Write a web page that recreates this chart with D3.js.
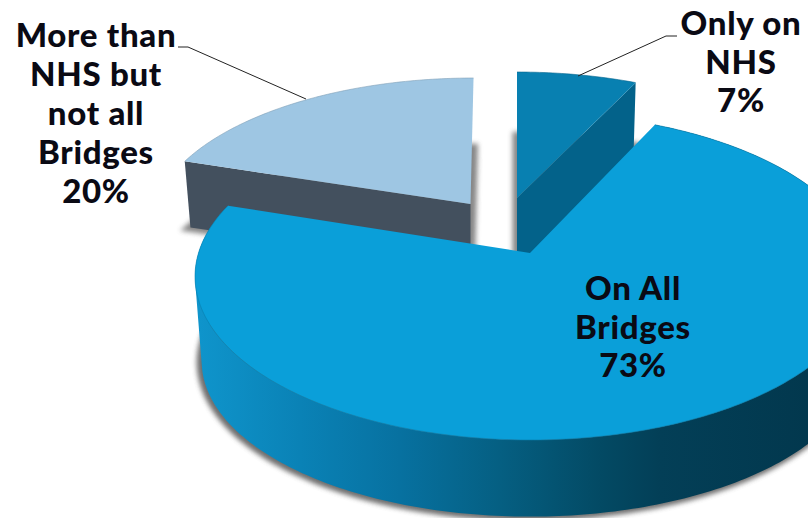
<!DOCTYPE html>
<html>
<head>
<meta charset="utf-8">
<script src="https://cdnjs.cloudflare.com/ajax/libs/d3/7.8.5/d3.min.js"></script>
<style>
  html, body { margin: 0; padding: 0; background: #fff; }
  svg { display: block; }
  text { font-family: Lato, "Open Sans", sans-serif; font-weight: 900; fill: #0a0a14; text-anchor: middle; letter-spacing: 0.7px; }
</style>
</head>
<body>
<svg id="chart" width="808" height="518"></svg>
<script>
// Share of bridges carrying the markings, by coverage.
const categories = ["Only on NHS", "On All Bridges", "More than NHS but not all Bridges"];
const shares = [7, 73, 20];
const labelLines = [
  ["Only on", "NHS", "7%"],
  ["On All", "Bridges", "73%"],
  ["More than", "NHS but", "not all", "Bridges", "20%"]
];
const topColors = ["#0880b1", "#0a9fd9", "#9ec6e3"];
const sideColors = ["#03628a", null, "#43505e"];

// Placement of each wedge: apex on screen, scale of the disc and lean of its back edge.
const wedgeLayout = [
  { x: 517, y: 198, sx: 0.95, sy: 0.9, lean: 0, depth: 74, shadowDepth: 58 },
  { x: 530, y: 253, sx: 1, sy: 1, lean: 0, depth: 86, shadowDepth: 86 },
  { x: 470.5, y: 204, sx: 0.95, sy: 0.9, lean: 0.024, depth: 64, shadowDepth: 64 }
];
const labelAnchors = [
  { x: 741, y: 35 }, { x: 633, y: 300 }, { x: 96, y: 47 }
];
const leaders = [
  [[578, 76], [666, 36], [677, 36]],
  [],
  [[178, 47], [188, 47], [306, 99]]
];
const lineHeights = [38.5, 38.5, 39];

// Perspective disc: unit circle seen from the front, far side foreshortened.
const A = 331.5, B = 160.1, P = 0.1437;
const baseScaleX = 0.98, baseScaleY = 0.95;

function project(angle, r, wedge, base) {
  const x = r * Math.sin(angle), y = r * Math.cos(angle);
  const w = 1 + P * y;
  const kx = wedge.sx * (base ? baseScaleX : 1);
  const ky = wedge.sy * (base ? baseScaleY : 1);
  const Y = B * y / w * ky;
  return [
    wedge.x + A * x / w * kx + wedge.lean * Y,
    wedge.y - Y + (base ? wedge.depth : 0)
  ];
}

const svg = d3.select("#chart");
const defs = svg.append("defs");
const line = d3.line();

const pie = d3.pie().sort(null).startAngle(0).endAngle(2 * Math.PI);
const arcs = pie(shares);

function rim(arc, wedge, base) {
  const n = Math.max(2, Math.ceil((arc.endAngle - arc.startAngle) * 60));
  return d3.range(n + 1).map(i =>
    project(arc.startAngle + (arc.endAngle - arc.startAngle) * i / n, 1, wedge, base));
}
const apex = (wedge, base) => project(0, 0, wedge, base);
const facePath = (arc, wedge, base) => line([apex(wedge, base), ...rim(arc, wedge, base)]) + "Z";

// Soft drop shadow under every wedge
defs.append("filter").attr("id", "soft")
  .attr("x", -0.1).attr("y", -0.1).attr("width", 1.2).attr("height", 1.2)
  .append("feGaussianBlur").attr("stdDeviation", 2.6);

// Rim shading of the large wedge runs dark toward the right
const rimStops = [
  [195, "#0f95cc"], [300, "#0a82b6"], [400, "#0771a0"], [500, "#055f82"],
  [600, "#034a64"], [660, "#033f57"], [808, "#02384e"]
];
const grad = defs.append("linearGradient").attr("id", "rimShade")
  .attr("gradientUnits", "userSpaceOnUse")
  .attr("x1", 195).attr("x2", 808).attr("y1", 0).attr("y2", 0);
grad.selectAll("stop").data(rimStops).join("stop")
  .attr("offset", d => (d[0] - 195) / (808 - 195))
  .attr("stop-color", d => d[1]);

// Back wedges first, the large one last so it overlaps them.
[2, 0, 1].forEach(i => {
  const arc = arcs[i], wedge = wedgeLayout[i];
  const g = svg.append("g").attr("class", "wedge").attr("aria-label", categories[i]);

  g.append("path")
    .attr("d", facePath(arc, { ...wedge, depth: wedge.shadowDepth }, true))
    .attr("fill", "#555")
    .attr("stroke", "#555")
    .attr("stroke-width", i === 1 ? 6 : 9)
    .attr("opacity", i === 1 ? 0.85 : 0.7)
    .attr("transform", i === 1 ? "translate(-2,1)" : null)
    .attr("filter", "url(#soft)");

  if (i === 1) {
    // The curved wall is one path of same-handed quads, so it stays solid where it folds at the sides.
    const top = rim(arc, wedge, false), bottom = rim(arc, wedge, true);
    const wall = d3.range(top.length - 1).map(k => {
      const quad = [top[k], top[k + 1], bottom[k + 1], bottom[k]];
      return line(d3.polygonArea(quad) < 0 ? quad.reverse() : quad) + "Z";
    }).join("");
    g.append("path").attr("d", wall).attr("fill", "url(#rimShade)");
  } else {
    const corner = i === 0 ? arc.endAngle : arc.startAngle;
    const front = [
      apex(wedge, false), project(corner, 1, wedge, false),
      project(corner, 1, wedge, true), apex(wedge, true)
    ];
    g.append("path").attr("d", line(front) + "Z").attr("fill", sideColors[i]);
  }

  g.append("path")
    .attr("d", facePath(arc, wedge, false))
    .attr("fill", topColors[i]);
  g.append("path")
    .attr("d", line(rim(arc, wedge, false)))
    .attr("fill", "none")
    .attr("stroke", d3.color(topColors[i]).darker(0.6))
    .attr("stroke-width", 0.6);
});

// Leader lines
svg.append("g").selectAll("path").data(leaders.filter(d => d.length)).join("path")
  .attr("d", d => line(d))
  .attr("fill", "none").attr("stroke", "#222").attr("stroke-width", 1);

// Multi-line labels
labelLines.forEach((lines, i) => {
  const t = svg.append("text").attr("font-size", 33);
  lines.forEach((s, j) => {
    t.append("tspan")
      .attr("x", labelAnchors[i].x)
      .attr("y", labelAnchors[i].y + j * lineHeights[i])
      .text(s);
  });
});
</script>
</body>
</html>
